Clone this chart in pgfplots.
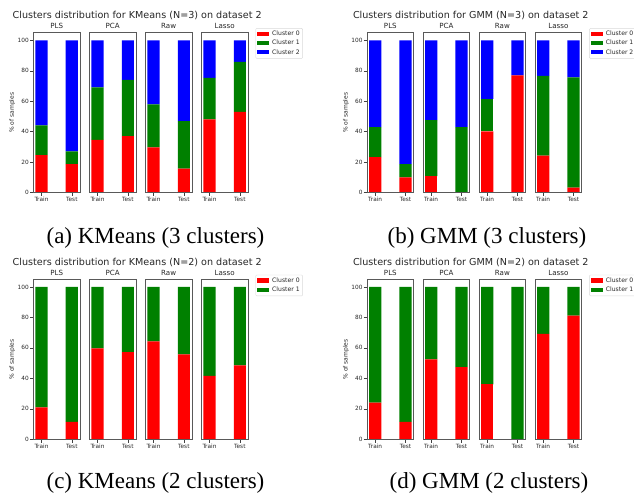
\documentclass[border=0pt]{standalone}
\usepackage{fontspec}
\setmainfont{DejaVu Sans}
\newfontfamily\capfont{Liberation Serif}
\usepackage{pgfplots}
\pgfplotsset{compat=1.18}
\definecolor{cred}{RGB}{255,0,0}
\definecolor{cgreen}{RGB}{0,128,0}
\definecolor{cblue}{RGB}{0,0,255}
\pgfplotsset{
  every axis title/.style={at={(0.5,1)}, anchor=base, yshift=4pt, inner sep=0pt,
    font=\fontsize{7.1}{8}\selectfont, text=black!85},
  panel/.style={
    anchor=south west, scale only axis, width=46.7pt, height=160pt,
    ybar stacked, bar width=0.4,
    xmin=-0.27, xmax=1.27, ymin=0, ymax=105,
    xtick={0,1}, xticklabels={Train,Test},
    ytick=\empty, tick pos=left, tick align=outside,
    major tick length=3.3pt,
    tick style={black!75, line width=0.5pt},
    axis line style={black!65, line width=0.6pt},
    axis on top,
    /pgf/number format/assume math mode=true,
    ticklabel style={font=\fontsize{5.8}{6}\selectfont, text=black!85},
    xticklabel style={inner sep=1pt},
    yticklabel style={inner sep=1pt},
    legend image code/.code={\fill[##1, sharp corners] (0pt,-1.8pt) rectangle (12pt,2.4pt);},
    legend cell align=left,
    legend style={at={(1,1)}, anchor=north west, xshift=7.5pt, yshift=4.5pt,
      draw=black!15, rounded corners=1pt, fill=white,
      font=\fontsize{6.1}{6}\selectfont, text=black!85,
      nodes={inner ysep=1pt, inner xsep=1.5pt},
      inner xsep=1.5pt, inner ysep=1.8pt, row sep=1pt, column sep=1.5pt},
  },
  firstpanel/.style={
    ytick={0,20,40,60,80,100},
    ylabel={\% of samples},
    ylabel style={at={(axis description cs:-0.45,0.5)}, anchor=center,
      font=\fontsize{6}{7}\selectfont, text=black!85},
  },
}
% #1 x, #2 y, #3 title, #4 options, #5 cluster0, #6 cluster1, #7 cluster2
\newcommand{\panelthree}[7]{%
  \begin{axis}[panel, at={(#1pt,#2pt)}, title={#3}, #4]
    \addplot[fill=cred, draw=none] coordinates {#5};
    \addplot[fill=cgreen, draw=none] coordinates {#6};
    \addplot[fill=cblue, draw=none] coordinates {#7};
  \end{axis}}
\newcommand{\paneltwo}[6]{%
  \begin{axis}[panel, at={(#1pt,#2pt)}, title={#3}, #4]
    \addplot[fill=cred, draw=none] coordinates {#5};
    \addplot[fill=cgreen, draw=none] coordinates {#6};
  \end{axis}}
\begin{document}
\begin{tikzpicture}[x=1pt,y=1pt]
\useasboundingbox (0,0) rectangle (634,493);
\clip (0,0) rectangle (634,493);
% ---------- (a) KMeans N=3 ----------
\node[font=\fontsize{9.6}{11}\selectfont, text=black!85] at (137.2,477.3) {Clusters distribution for KMeans (N=3) on dataset 2};
\panelthree{33.3}{300.3}{PLS}{firstpanel}{(0,24.7) (1,18.8)}{(0,19.5) (1,8.3)}{(0,55.8) (1,72.9)}
\panelthree{89.3}{300.3}{PCA}{}{(0,34.6) (1,37.2)}{(0,34.5) (1,36.8)}{(0,30.9) (1,26.0)}
\panelthree{145.3}{300.3}{Raw}{}{(0,29.8) (1,15.8)}{(0,28.2) (1,31.2)}{(0,42.0) (1,53.0)}
\panelthree{201.3}{300.3}{Lasso}{legend entries={Cluster 0,Cluster 1,Cluster 2}}{(0,48.1) (1,53.0)}{(0,27.2) (1,32.8)}{(0,24.7) (1,14.2)}
% ---------- (b) GMM N=3 ----------
\node[font=\fontsize{9.6}{11}\selectfont, text=black!85] at (470.8,477.3) {Clusters distribution for GMM (N=3) on dataset 2};
\panelthree{367}{300.3}{PLS}{firstpanel}{(0,23.4) (1,10.1)}{(0,19.7) (1,8.7)}{(0,56.9) (1,81.2)}
\panelthree{423}{300.3}{PCA}{}{(0,10.9) (1,0)}{(0,36.8) (1,43.1)}{(0,52.3) (1,56.9)}
\panelthree{479}{300.3}{Raw}{}{(0,40.3) (1,77.0)}{(0,21.2) (1,0)}{(0,38.5) (1,23.0)}
\panelthree{535}{300.3}{Lasso}{legend entries={Cluster 0,Cluster 1,Cluster 2}}{(0,24.3) (1,3.3)}{(0,52.3) (1,72.4)}{(0,23.4) (1,24.3)}
% ---------- (c) KMeans N=2 ----------
\node[font=\fontsize{9.6}{11}\selectfont, text=black!85] at (137.2,231) {Clusters distribution for KMeans (N=2) on dataset 2};
\paneltwo{33.3}{53.7}{PLS}{firstpanel}{(0,21.0) (1,11.4)}{(0,79.0) (1,88.6)}
\paneltwo{89.3}{53.7}{PCA}{}{(0,59.6) (1,57.2)}{(0,40.4) (1,42.8)}
\paneltwo{145.3}{53.7}{Raw}{}{(0,64.2) (1,55.7)}{(0,35.8) (1,44.3)}
\paneltwo{201.3}{53.7}{Lasso}{legend entries={Cluster 0,Cluster 1}}{(0,41.7) (1,48.5)}{(0,58.3) (1,51.5)}
% ---------- (d) GMM N=2 ----------
\node[font=\fontsize{9.6}{11}\selectfont, text=black!85] at (470.8,231) {Clusters distribution for GMM (N=2) on dataset 2};
\paneltwo{367}{53.7}{PLS}{firstpanel}{(0,24.0) (1,11.4)}{(0,76.0) (1,88.6)}
\paneltwo{423}{53.7}{PCA}{}{(0,52.4) (1,47.4)}{(0,47.6) (1,52.6)}
\paneltwo{479}{53.7}{Raw}{}{(0,36.0) (1,0)}{(0,64.0) (1,100)}
\paneltwo{535}{53.7}{Lasso}{legend entries={Cluster 0,Cluster 1}}{(0,69.2) (1,81.2)}{(0,30.8) (1,18.8)}
% ---------- captions ----------
\node[font=\capfont\fontsize{23}{26}\selectfont, anchor=base] at (155.5,249) {(a) KMeans (3 clusters)};
\node[font=\capfont\fontsize{23}{26}\selectfont, anchor=base] at (487,249) {(b) GMM (3 clusters)};
\node[font=\capfont\fontsize{23}{26}\selectfont, anchor=base] at (155.5,5) {(c) KMeans (2 clusters)};
\node[font=\capfont\fontsize{23}{26}\selectfont, anchor=base] at (489,5) {(d) GMM (2 clusters)};
\end{tikzpicture}
\end{document}
